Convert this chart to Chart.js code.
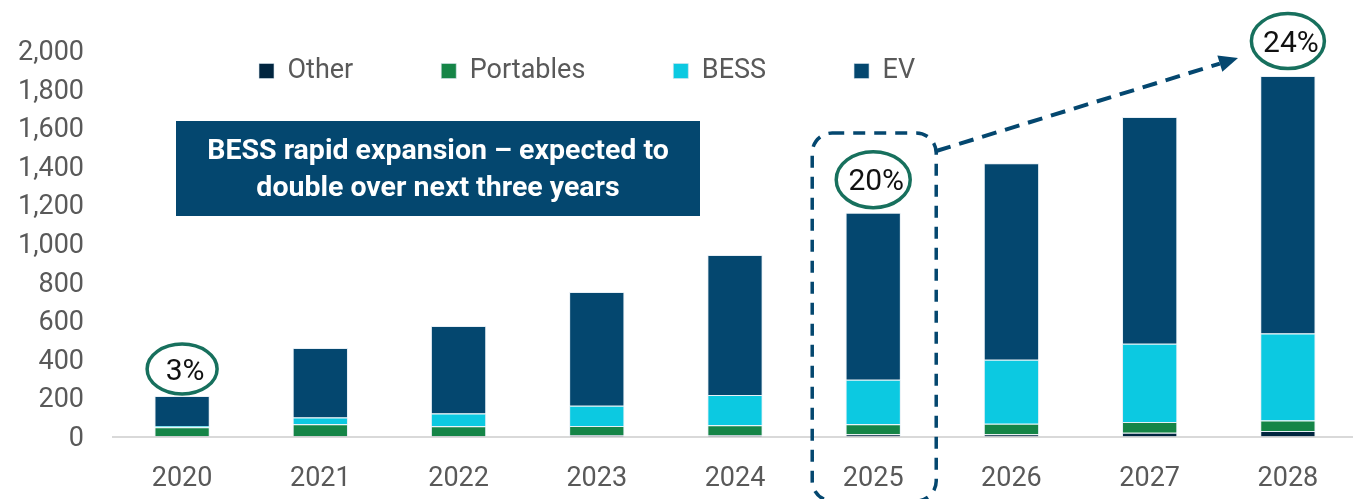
<!DOCTYPE html>
<html>
<head>
<meta charset="utf-8">
<script src="https://cdn.jsdelivr.net/npm/chart.js@4/dist/chart.umd.min.js"></script>
<style>
  html, body { margin: 0; padding: 0; background: #ffffff; overflow: hidden; }
  #wrap { width: 1358px; height: 499px; }
</style>
</head>
<body>
<div id="wrap"><canvas id="chart" width="1358" height="499"></canvas></div>
<script>
// Battery demand by application, GWh
const years     = ['2020', '2021', '2022', '2023', '2024', '2025', '2026', '2027', '2028'];
const other     = [2, 3, 3, 7, 7, 12, 12, 20, 28];
const portables = [46, 60, 50, 48, 52, 52, 54, 55, 55];
const bess      = [7, 35, 66, 104, 156, 230, 332, 406, 452];
const ev        = [155, 361, 454, 591, 727, 867, 1019, 1177, 1335];
const yTicks    = [0, 200, 400, 600, 800, 1000, 1200, 1400, 1600, 1800, 2000];

// years whose BESS share is called out above the bar
const calloutYears = ['2020', '2025', '2028'];

const COLORS = {
  other: '#01253f',
  portables: '#158547',
  bess: '#0cc9e1',
  ev: '#04476f',
  text: '#595959',
  callout: '#17705d',
  axis: '#d9d9d9'
};

const FONT = 'Roboto, "Open Sans", sans-serif';
const LABEL_SIZE = 27;

const totals = years.map((_, i) => other[i] + portables[i] + bess[i] + ev[i]);

// callout geometry (offset above the bar top, ellipse radii)
const calloutStyle = {
  '2020': { dy: -27, rx: 35, ry: 25 },
  '2025': { dy: -33, rx: 37, ry: 28 },
  '2028': { dy: -35, rx: 36.5, ry: 27.5 }
};

// The legend reserves almost no room; it is drawn over the top of the plot area
const legendPlacement = {
  id: 'legendPlacement',
  beforeDraw(chart) {
    const lg = chart.legend;
    if (!lg) return;
    const pad = lg.options.labels.padding;
    const w = lg.right - lg.left;
    lg.left = 259 - pad;
    lg.right = lg.left + w;
    lg.top = 71 - LABEL_SIZE / 2 - pad;
    lg.bottom = 71 + LABEL_SIZE;
  }
};

function roundRectPath(ctx, x, y, w, h, r) {
  ctx.beginPath();
  ctx.moveTo(x + r, y);
  ctx.lineTo(x + w - r, y);
  ctx.arcTo(x + w, y, x + w, y + r, r);
  ctx.lineTo(x + w, y + h - r);
  ctx.arcTo(x + w, y + h, x + w - r, y + h, r);
  ctx.lineTo(x + r, y + h);
  ctx.arcTo(x, y + h, x, y + h - r, r);
  ctx.lineTo(x, y + r);
  ctx.arcTo(x, y, x + r, y, r);
  ctx.closePath();
}

const annotations = {
  id: 'annotations',
  afterDatasetsDraw(chart) {
    const ctx = chart.ctx;
    const xs = chart.scales.x;
    const ys = chart.scales.y;

    // headline box
    ctx.save();
    ctx.fillStyle = COLORS.ev;
    ctx.fillRect(176, 121, 524, 95);
    ctx.fillStyle = '#ffffff';
    ctx.font = 'bold 28.5px ' + FONT;
    ctx.textAlign = 'center';
    ctx.textBaseline = 'middle';
    ctx.fillText('BESS rapid expansion \u2013 expected to', 438, 152);
    ctx.fillText('double over next three years', 438, 189);
    ctx.restore();

    // dashed frame around 2025
    const i25 = years.indexOf('2025');
    const cx25 = xs.getPixelForValue(i25);
    ctx.save();
    ctx.strokeStyle = COLORS.ev;
    ctx.lineWidth = 3.5;
    ctx.setLineDash([12, 9]);
    roundRectPath(ctx, cx25 - 61, 133, 124, 368, 20);
    ctx.stroke();

    // dashed arrow from the frame towards 2028
    const x0 = cx25 + 63, y0 = 151;
    const x1 = 1238, y1 = 58;
    const ang = Math.atan2(y1 - y0, x1 - x0);
    const headLen = 19, headHalf = 8.5;
    const bx = x1 - headLen * Math.cos(ang);
    const by = y1 - headLen * Math.sin(ang);
    ctx.lineWidth = 4;
    ctx.setLineDash([15, 9]);
    ctx.beginPath();
    ctx.moveTo(x0, y0);
    ctx.lineTo(bx, by);
    ctx.stroke();
    ctx.setLineDash([]);
    ctx.fillStyle = COLORS.ev;
    ctx.beginPath();
    ctx.moveTo(x1, y1);
    ctx.lineTo(bx - headHalf * Math.sin(ang), by + headHalf * Math.cos(ang));
    ctx.lineTo(bx + headHalf * Math.sin(ang), by - headHalf * Math.cos(ang));
    ctx.closePath();
    ctx.fill();
    ctx.restore();

    // BESS share callouts
    calloutYears.forEach((yr) => {
      const i = years.indexOf(yr);
      const s = calloutStyle[yr];
      const cx = xs.getPixelForValue(i);
      const cy = ys.getPixelForValue(totals[i]) + s.dy;
      const share = Math.round(bess[i] / totals[i] * 100);
      ctx.save();
      ctx.fillStyle = '#ffffff';
      ctx.strokeStyle = COLORS.callout;
      ctx.lineWidth = 3.5;
      ctx.beginPath();
      ctx.ellipse(cx, cy, s.rx, s.ry, 0, 0, Math.PI * 2);
      ctx.fill();
      ctx.stroke();
      ctx.fillStyle = '#111111';
      ctx.font = '30px ' + FONT;
      ctx.textAlign = 'center';
      ctx.textBaseline = 'middle';
      ctx.fillText(share + '%', cx + 3, cy + 3);
      ctx.restore();
    });
  }
};

const barStyle = { barPercentage: 0.4, categoryPercentage: 1.0, borderWidth: 1, borderColor: 'rgba(215,228,238,0.6)' };

new Chart(document.getElementById('chart'), {
  type: 'bar',
  data: {
    labels: years,
    datasets: [
      Object.assign({ label: 'Other', data: other, backgroundColor: COLORS.other }, barStyle),
      Object.assign({ label: 'Portables', data: portables, backgroundColor: COLORS.portables }, barStyle),
      Object.assign({ label: 'BESS', data: bess, backgroundColor: COLORS.bess }, barStyle),
      Object.assign({ label: 'EV', data: ev, backgroundColor: COLORS.ev }, barStyle)
    ]
  },
  options: {
    responsive: false,
    animation: false,
    events: [],
    layout: { padding: { top: 50, left: 0, right: 1, bottom: 0 } },
    plugins: {
      tooltip: { enabled: false },
      legend: {
        position: 'top',
        align: 'start',
        maxHeight: 1,
        labels: {
          color: COLORS.text,
          font: { family: FONT, size: LABEL_SIZE },
          boxWidth: 15,
          boxHeight: 15,
          padding: 88
        }
      }
    },
    scales: {
      x: {
        stacked: true,
        grid: { display: false, drawTicks: false },
        border: { display: true, color: COLORS.axis, width: 2 },
        ticks: { color: COLORS.text, font: { family: FONT, size: LABEL_SIZE }, padding: 27, maxRotation: 0 },
        afterFit(scale) { scale.height = 62.5; }
      },
      y: {
        stacked: true,
        min: 0,
        max: 2000,
        grid: { display: false, drawTicks: false },
        border: { display: false },
        afterBuildTicks(scale) { scale.ticks = yTicks.map(v => ({ value: v })); },
        ticks: {
          color: COLORS.text,
          font: { family: FONT, size: LABEL_SIZE },
          padding: 29,
          labelOffset: 2.5,
          callback: (v) => Number(v).toLocaleString('en-US')
        },
        afterFit(scale) { scale.width = 113; }
      }
    }
  },
  plugins: [legendPlacement, annotations]
});
</script>
</body>
</html>
